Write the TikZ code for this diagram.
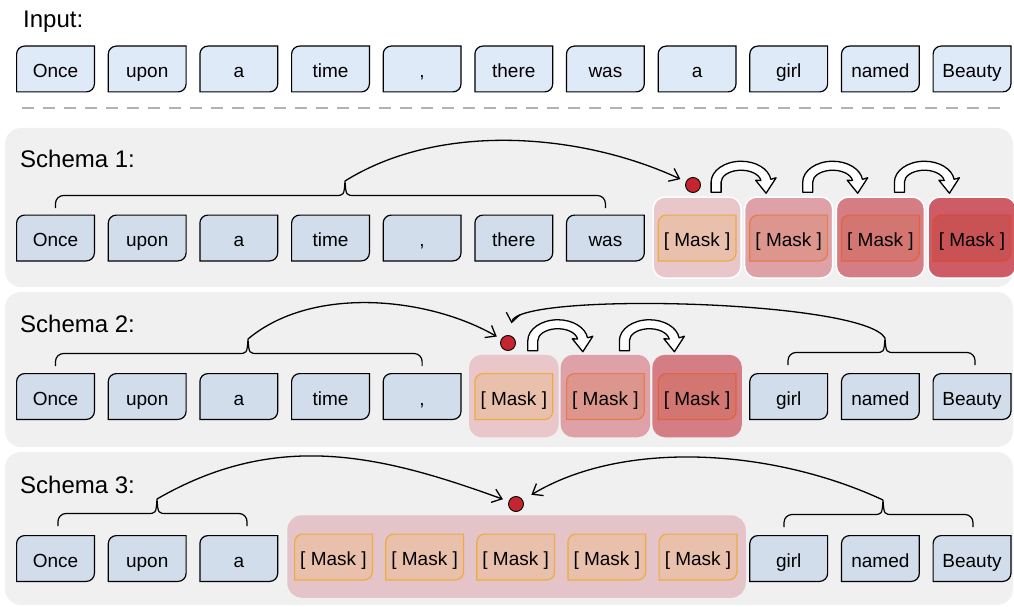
\documentclass[tikz,border=0pt]{standalone}
\usepackage{fontspec}
\setmainfont{Liberation Sans}
\usetikzlibrary{arrows.meta,positioning}

\definecolor{panelgray}{RGB}{240,240,240}
\definecolor{inblue}{RGB}{222,234,248}
\definecolor{tokblue}{RGB}{209,221,235}
\definecolor{dashgray}{RGB}{178,178,178}
\definecolor{dotred}{RGB}{198,36,46}
\definecolor{bgA}{RGB}{232,198,202}
\definecolor{bgB}{RGB}{221,161,167}
\definecolor{bgC}{RGB}{213,125,133}
\definecolor{bgD}{RGB}{205,92,103}
\definecolor{mskA}{RGB}{233,192,172}
\definecolor{mskB}{RGB}{220,150,142}
\definecolor{mskC}{RGB}{211,117,113}
\definecolor{mskD}{RGB}{201,82,85}
\definecolor{edgA}{RGB}{236,172,64}
\definecolor{edgB}{RGB}{232,124,72}
\definecolor{edgC}{RGB}{228,98,62}
\definecolor{edgD}{RGB}{222,72,52}
\definecolor{bigpink}{RGB}{228,196,200}

% brace over tokens: left x, right x, tip x, y of the ends
\newcommand{\tokbrace}[4]{%
\draw[line width=1.2pt] ({#1},{#4}) -- ({#1},{#4+4.5})
  arc[start angle=180, end angle=90, radius=8pt] -- ({#3-10},{#4+12.5})
  .. controls ({#3-1},{#4+12.5}) .. ({#3},{#4+27})
  .. controls ({#3+1},{#4+12.5}) .. ({#3+10},{#4+12.5})
  -- ({#2-8},{#4+12.5}) arc[start angle=90, end angle=0, radius=8pt] -- ({#2},{#4});}

\begin{document}
\begin{tikzpicture}[
x=1pt, y=1pt,
tok/.style 2 args={minimum width=79pt, minimum height=47pt, inner sep=0pt,
  text height=21pt, text depth=4pt, font=\fontsize{19}{19}\selectfont,
  path picture={\draw[fill=#1, draw=#2, line width=1.2pt]
    ([shift={(0.6pt,0.6pt)}]path picture bounding box.south west)
    -- ([shift={(0.6pt,-8.6pt)}]path picture bounding box.north west)
    arc[start angle=180, end angle=90, radius=8pt]
    -- ([shift={(-0.6pt,-0.6pt)}]path picture bounding box.north east)
    -- ([shift={(-0.6pt,8.6pt)}]path picture bounding box.south east)
    arc[start angle=0, end angle=-90, radius=8pt]
    -- cycle;}},
maskbg/.style={rectangle, rounded corners=12pt, minimum width=88pt,
  minimum height=81pt, fill=#1, draw=#1, line width=1.5pt},
title/.style={anchor=base west, inner sep=0pt, font=\fontsize{24}{24}\selectfont},
panelbg/.style={fill=panelgray, rounded corners=16pt},
dot/.style={circle, fill=dotred, draw=black, line width=0.9pt,
  minimum size=15pt, inner sep=0pt},
link/.style={line width=1.3pt, -{Straight Barb[length=9pt,width=14pt]}},
hollow/.pic={\draw[fill=white, line width=1.3pt, line join=round]
  (-30,-10) -- (-30,0) arc[start angle=180, end angle=8, x radius=30pt, y radius=21pt]
  -- (35,4.5) -- (25,-11) -- (14.5,2) -- (19.8,1.7)
  arc[start angle=8, end angle=180, x radius=20pt, y radius=12pt]
  -- (-20,-10) -- cycle;},
]
\useasboundingbox (0,0) rectangle (1014,-607);

%Panels
\fill[panelbg] (5,-128) rectangle (1013,-287);
\fill[panelbg] (5,-292) rectangle (1013,-447);
\fill[panelbg] (5,-452) rectangle (1013,-605);
\draw[dashgray, line width=1.8pt, dash pattern=on 12pt off 9pt] (22,-108) -- (1006,-108);

%Titles
\node[title] at (23,-28) (tin) {Input:};
\node[title] at (20,-167) (ts1) {Schema 1:};
\node[title] at (20,-332) (ts2) {Schema 2:};
\node[title] at (20,-493) (ts3) {Schema 3:};

%Input
\node[tok={inblue}{black}] at (55.5,-69) (in0) {Once};
\node[tok={inblue}{black}] at (147.2,-69) (in1) {upon};
\node[tok={inblue}{black}] at (238.8,-69) (in2) {a};
\node[tok={inblue}{black}] at (330.5,-69) (in3) {time};
\node[tok={inblue}{black}] at (422.1,-69) (in4) {,};
\node[tok={inblue}{black}] at (513.8,-69) (in5) {there};
\node[tok={inblue}{black}] at (605.4,-69) (in6) {was};
\node[tok={inblue}{black}] at (697.1,-69) (in7) {a};
\node[tok={inblue}{black}] at (788.7,-69) (in8) {girl};
\node[tok={inblue}{black}] at (880.4,-69) (in9) {named};
\node[tok={inblue}{black}] at (972,-69) (in10) {Beauty};

%Schema 1
\node[maskbg=bgA, draw=white] at (697.1,-237.5) (s1b1) {};
\node[maskbg=bgB, draw=white] at (788.7,-237.5) (s1b2) {};
\node[maskbg=bgC, draw=white] at (880.4,-237.5) (s1b3) {};
\node[maskbg=bgD, draw=white] at (972,-237.5) (s1b4) {};
\node[tok={tokblue}{black}] at (55.5,-238) (s1t0) {Once};
\node[tok={tokblue}{black}] at (147.2,-238) (s1t1) {upon};
\node[tok={tokblue}{black}] at (238.8,-238) (s1t2) {a};
\node[tok={tokblue}{black}] at (330.5,-238) (s1t3) {time};
\node[tok={tokblue}{black}] at (422.1,-238) (s1t4) {,};
\node[tok={tokblue}{black}] at (513.8,-238) (s1t5) {there};
\node[tok={tokblue}{black}] at (605.4,-238) (s1t6) {was};
\node[tok={mskA}{edgA}] at (697.1,-238) (s1m1) {[ Mask ]};
\node[tok={mskB}{edgB}] at (788.7,-238) (s1m2) {[ Mask ]};
\node[tok={mskC}{edgC}] at (880.4,-238) (s1m3) {[ Mask ]};
\node[tok={mskD}{edgD}] at (972,-238) (s1m4) {[ Mask ]};
\node[dot] at (693,-185) (d1) {};
\coordinate (b1) at (345,-181);
\tokbrace{55.5}{605.4}{345}{-208}
\draw[link, shorten >=6pt] (b1) to[out=32, in=155, looseness=0.85] (d1);
\pic at ([shift={(44pt,14pt)}]s1b1.north) {hollow};
\pic at ([shift={(44pt,14pt)}]s1b2.north) {hollow};
\pic at ([shift={(44pt,14pt)}]s1b3.north) {hollow};

%Schema 2
\node[maskbg=bgA] at (513.8,-396) (s2b1) {};
\node[maskbg=bgB] at (605.4,-396) (s2b2) {};
\node[maskbg=bgC] at (697.1,-396) (s2b3) {};
\node[tok={tokblue}{black}] at (55.5,-396.5) (s2t0) {Once};
\node[tok={tokblue}{black}] at (147.2,-396.5) (s2t1) {upon};
\node[tok={tokblue}{black}] at (238.8,-396.5) (s2t2) {a};
\node[tok={tokblue}{black}] at (330.5,-396.5) (s2t3) {time};
\node[tok={tokblue}{black}] at (422.1,-396.5) (s2t4) {,};
\node[tok={mskA}{edgA}] at (513.8,-396.5) (s2m1) {[ Mask ]};
\node[tok={mskB}{edgB}] at (605.4,-396.5) (s2m2) {[ Mask ]};
\node[tok={mskC}{edgC}] at (697.1,-396.5) (s2m3) {[ Mask ]};
\node[tok={tokblue}{black}] at (788.7,-396.5) (s2t8) {girl};
\node[tok={tokblue}{black}] at (880.4,-396.5) (s2t9) {named};
\node[tok={tokblue}{black}] at (972,-396.5) (s2t10) {Beauty};
\node[dot] at (508,-343) (d2) {};
\coordinate (b2l) at (248,-339);
\coordinate (b2r) at (885,-338);
\tokbrace{55.5}{422.1}{248}{-366}
\tokbrace{788}{975}{885}{-365}
\draw[link, shorten >=5pt] (b2l) to[out=40, in=150, looseness=0.85] (d2);
\draw[link, shorten >=12pt] (b2r) to[out=120, in=80, looseness=0.3] (d2);
\pic at ([shift={(44pt,14pt)}]s2b1.north) {hollow};
\pic at ([shift={(44pt,14pt)}]s2b2.north) {hollow};

%Schema 3
\node[maskbg=bigpink, minimum width=457pt, rounded corners=14pt] at (516.5,-556.5) (s3bg) {};
\node[tok={tokblue}{black}] at (55.5,-558.5) (s3t0) {Once};
\node[tok={tokblue}{black}] at (147.2,-558.5) (s3t1) {upon};
\node[tok={tokblue}{black}] at (238.8,-558.5) (s3t2) {a};
\node[tok={mskA}{edgA}] at (333.5,-557) (s3m1) {[ Mask ]};
\node[tok={mskA}{edgA}] at (424.6,-557) (s3m2) {[ Mask ]};
\node[tok={mskA}{edgA}] at (515.7,-557) (s3m3) {[ Mask ]};
\node[tok={mskA}{edgA}] at (606.8,-557) (s3m4) {[ Mask ]};
\node[tok={mskA}{edgA}] at (698,-557) (s3m5) {[ Mask ]};
\node[tok={tokblue}{black}] at (788.7,-558.5) (s3t8) {girl};
\node[tok={tokblue}{black}] at (880.4,-558.5) (s3t9) {named};
\node[tok={tokblue}{black}] at (972,-558.5) (s3t10) {Beauty};
\node[dot] at (516,-504) (d3) {};
\coordinate (b3l) at (157,-499);
\coordinate (b3r) at (883,-500);
\tokbrace{58}{247}{157}{-526}
\tokbrace{784}{973}{883}{-527}
\draw[link, shorten >=6pt] (b3l) to[out=30, in=160] (d3);
\draw[link, shorten >=10pt] (b3r) to[out=155, in=31, looseness=0.85] (d3);
\end{tikzpicture}
\end{document}
